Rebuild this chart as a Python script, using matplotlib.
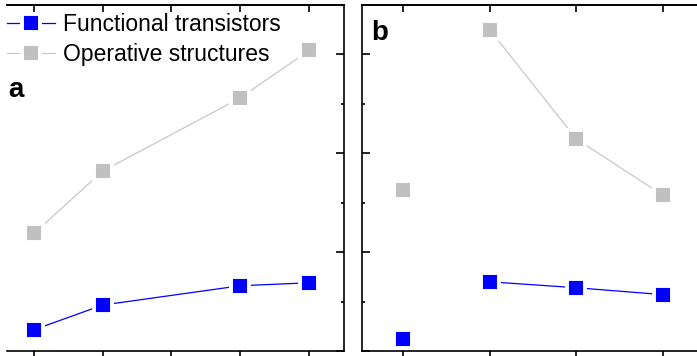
import numpy as np
import matplotlib.pyplot as plt
from matplotlib.ticker import MultipleLocator

plt.rcParams['font.family'] = ['Liberation Sans', 'DejaVu Sans']

# panel a: four samples on positions 1, 2, 4, 5
a_x = [1, 2, 4, 5]
a_functional = [4.3, 9.3, 13.2, 13.8]
a_operative = [23.8, 36.4, 51.2, 60.8]

# panel b: first sample is plotted on its own, the rest are joined
b_x = [1, 2, 3, 4]
b_functional = [2.4, 14.0, 12.8, 11.4]
b_operative = [32.5, 65.0, 42.9, 31.5]

blue = '#0000ff'
grey = '#c0c0c0'
grey_line = '#c8c8c8'

W, H = 697, 356
fig = plt.figure(figsize=(W / 100, H / 100), dpi=100)


def px_axes(x0, x1, y0, y1):
    return fig.add_axes([x0 / W, 1 - y1 / H, (x1 - x0) / W, (y1 - y0) / H])


ax1 = px_axes(7, 344, 5, 351)
ax2 = px_axes(362, 706, 5, 351)

mk = dict(marker='s', markersize=13.5, markeredgecolor='white', markeredgewidth=2.8)


def style(ax, xticks, yside):
    ax.set_ylim(0, 70)
    ax.yaxis.set_major_locator(MultipleLocator(20))
    ax.yaxis.set_minor_locator(MultipleLocator(10))
    ax.set_xticks(xticks)
    ax.tick_params(axis='x', which='both', direction='out', length=5, width=1.2,
                   labelbottom=False, top=False)
    top = ax.secondary_xaxis('top')
    top.set_xticks(xticks)
    top.tick_params(direction='in', length=5, width=1.2, labeltop=False)
    top.spines['top'].set_linewidth(1.2)
    for s in ax.spines.values():
        s.set_linewidth(1.2)
    if yside == 'right':
        ax.yaxis.tick_right()
        ax.spines['left'].set_visible(False)
    else:
        ax.yaxis.tick_left()
    ax.tick_params(axis='y', which='major', direction='in', length=5.5, width=1.2,
                   labelleft=False, labelright=False)
    ax.tick_params(axis='y', which='minor', direction='in', length=2.5, width=1.2)


# panel a
ax1.plot(a_x, a_functional, color=blue, lw=0.9, markerfacecolor=blue,
         label='Functional transistors', **mk)
ax1.plot(a_x, a_operative, color=grey_line, lw=0.9, markerfacecolor=grey,
         label='Operative structures', **mk)
ax1.set_xlim(0.607, 5.51)
style(ax1, [1, 2, 3, 4, 5], 'right')
ax1.text(0.005, 0.755, 'a', transform=ax1.transAxes, fontsize=20,
         fontweight='bold', ha='left', va='center')
ax1.legend(loc='upper left', bbox_to_anchor=(-0.015, 0.99), frameon=False,
           fontsize=16.5, handlelength=2.1, handletextpad=0.35,
           labelspacing=0.3, borderaxespad=0.0, borderpad=0.2)

# panel b
ax2.plot(b_x[1:], b_functional[1:], color=blue, lw=0.9, markerfacecolor=blue, **mk)
ax2.plot(b_x[:1], b_functional[:1], color=blue, ls='none', markerfacecolor=blue, **mk)
ax2.plot(b_x[1:], b_operative[1:], color=grey_line, lw=0.9, markerfacecolor=grey, **mk)
ax2.plot(b_x[:1], b_operative[:1], color=grey_line, ls='none', markerfacecolor=grey, **mk)
ax2.set_xlim(0.527, 4.496)
style(ax2, [1, 2, 3, 4], 'left')
ax2.text(0.028, 0.92, 'b', transform=ax2.transAxes, fontsize=20,
         fontweight='bold', ha='left', va='center')

fig.savefig('out.png', dpi=100)
